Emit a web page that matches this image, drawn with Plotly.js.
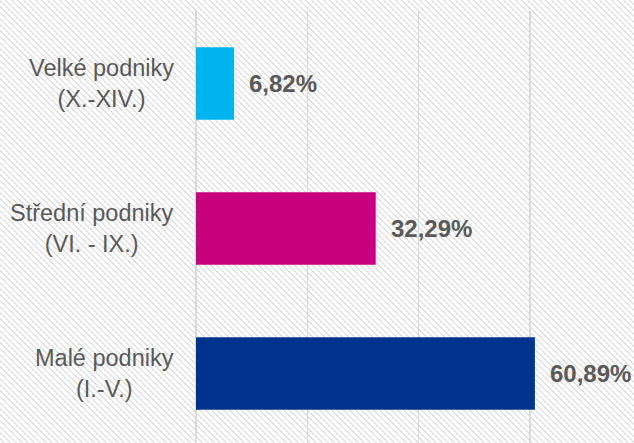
<!DOCTYPE html>
<html>
<head>
<meta charset="utf-8">
<script src="https://cdn.plot.ly/plotly-3.0.1.min.js"></script>
<style>
  html, body { margin: 0; padding: 0; }
  #chart {
    width: 634px; height: 443px;
    background: repeating-linear-gradient(45deg, #ffffff 0px, #ffffff 2.6px, #e2e2e2 2.6px, #e2e2e2 4.24px);
  }
</style>
</head>
<body>
<div id="chart"></div>
<script>
// Data (bottom to top)
const categories = ['Malé podniky', 'Střední podniky', 'Velké podniky'];
const subLabels = ['(I.-V.)', '(VI. - IX.)', '(X.-XIV.)'];
const values = [60.89, 32.29, 6.82];
const valueLabels = ['60,89%', '32,29%', '6,82%'];
const colors = ['#00338D', '#C8007E', '#00B4F0'];

const trace = {
  type: 'bar',
  orientation: 'h',
  y: categories,
  x: values,
  width: 0.5,
  marker: { color: colors, line: { width: 0 } },
  hoverinfo: 'none'
};

const annotations = [];
categories.forEach((c, i) => {
  annotations.push({
    xref: 'paper', yref: 'y', x: -0.045, y: c,
    xanchor: 'right', yanchor: 'middle', align: 'center',
    text: c + '<br>' + subLabels[i], showarrow: false,
    font: { family: 'Liberation Sans, Arial, sans-serif', size: 23.5, color: '#595959' }
  });
  annotations.push({
    xref: 'x', yref: 'y', x: values[i], y: c,
    xanchor: 'left', yanchor: 'middle', xshift: 13,
    text: '<b>' + valueLabels[i] + '</b>', showarrow: false,
    font: { family: 'Liberation Sans, Arial, sans-serif', size: 24, color: '#595959' }
  });
});

const layout = {
  width: 634, height: 443,
  margin: { l: 196, r: 0, t: 11, b: 0, pad: 0 },
  paper_bgcolor: 'rgba(0,0,0,0)',
  plot_bgcolor: 'rgba(0,0,0,0)',
  showlegend: false,
  xaxis: {
    range: [0, 78.7],
    dtick: 20, tick0: 0,
    showgrid: true, gridcolor: '#d9d9d9', gridwidth: 1.5,
    zeroline: true, zerolinecolor: '#d9d9d9', zerolinewidth: 1.5,
    showticklabels: false, ticks: '', showline: false, fixedrange: true
  },
  yaxis: {
    type: 'category',
    categoryorder: 'array', categoryarray: categories,
    range: [-0.479, 2.5],
    showgrid: false, zeroline: false, showticklabels: false, ticks: '', showline: false
  },
  annotations: annotations,
  font: { family: 'Liberation Sans, Arial, sans-serif' }
};

Plotly.newPlot('chart', [trace], layout, { displayModeBar: false, staticPlot: true });
</script>
</body>
</html>
